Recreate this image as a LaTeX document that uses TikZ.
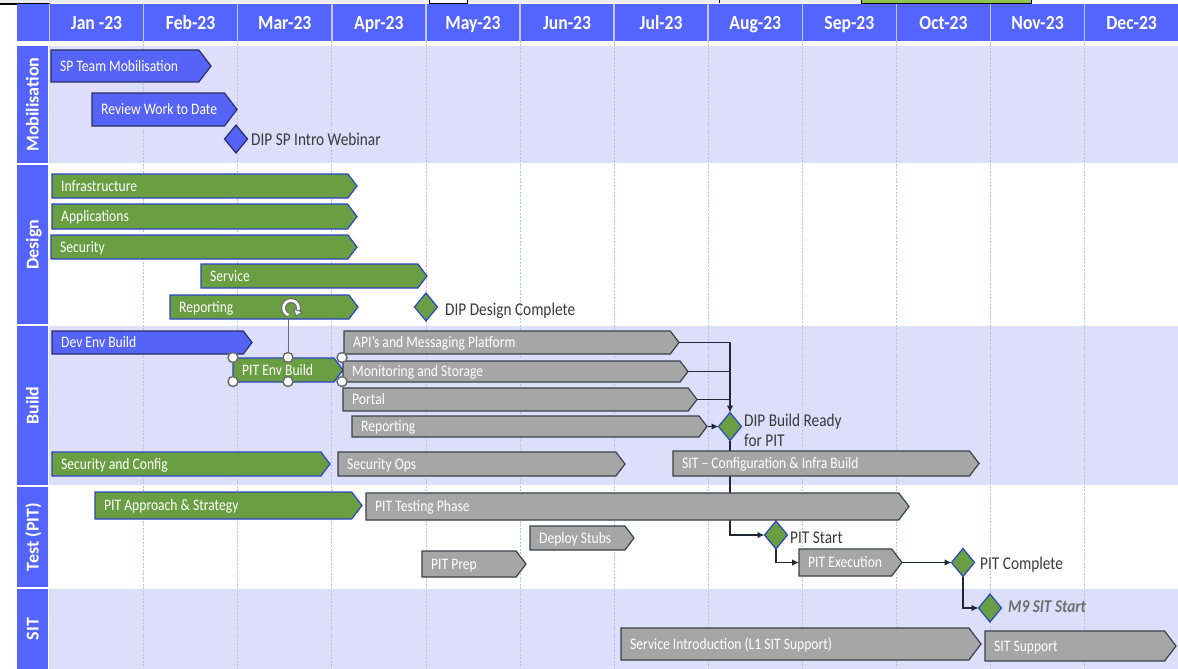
\documentclass[tikz,border=0pt]{standalone}
\usepackage{fontspec}
\setmainfont{Carlito}
\newfontfamily\barfont[FakeStretch=0.85]{Carlito}
\newfontfamily\hdrfont[FakeStretch=0.88]{Carlito}
\usetikzlibrary{shapes.geometric,arrows.meta,calc}

\definecolor{hdrblue}{HTML}{5465FF}
\definecolor{hdrsep}{HTML}{C3C8FF}
\definecolor{lane}{HTML}{DCDEFA}
\definecolor{gridc}{HTML}{B9BEF2}
\definecolor{bluebar}{HTML}{5563F6}
\definecolor{blueedge}{HTML}{2A2E66}
\definecolor{greenbar}{HTML}{6A9E42}
\definecolor{greenedge}{HTML}{2C45C4}
\definecolor{graybar}{HTML}{A6A6A6}
\definecolor{grayedge}{HTML}{3B4149}
\definecolor{labeltext}{HTML}{3A3A3A}
\definecolor{italictext}{HTML}{707070}
\definecolor{conncol}{HTML}{1E2833}
\definecolor{handlecol}{HTML}{6E6E6E}
\definecolor{stripgray}{HTML}{ECECEC}
\definecolor{stripgreen}{HTML}{8CC653}

\pgfdeclarelayer{back}
\pgfdeclarelayer{links}
\pgfsetlayers{back,links,main}

\tikzset{
  barbox/.style={inner sep=0pt, outer sep=0pt},
  bluestyle/.style={fill=bluebar, draw=blueedge, line width=1.2pt, line join=miter},
  greenstyle/.style={fill=greenbar, draw=greenedge, line width=1.2pt, line join=miter},
  graystyle/.style={fill=graybar, draw=grayedge, line width=1.2pt, line join=miter},
  bartext/.style={anchor=west, inner sep=0pt, text=white, text height=10pt, text depth=0pt,
    font=\barfont\fontsize{16}{18}\selectfont},
  ms/.style={diamond, inner sep=0pt, outer sep=0pt, minimum width=23pt, minimum height=28pt, line width=1.2pt},
  msgreen/.style={ms, fill=greenbar, draw=greenedge},
  msblue/.style={ms, fill=bluebar, draw=blueedge},
  mslabel/.style={anchor=west, inner sep=0pt, text=labeltext, text height=11.5pt, text depth=0pt,
    font=\barfont\fontsize{18}{20}\selectfont},
  link/.style={draw=conncol, line width=1.2pt},
  linkarrow/.style={link, -{Latex[length=7pt,width=6.5pt]}},
  monthtext/.style={inner sep=0pt, text=white, text height=13pt, text depth=0pt,
    font=\hdrfont\bfseries\fontsize{20}{22}\selectfont},
  lanecell/.style={rotate=90, fill=hdrblue, inner sep=0pt, minimum height=31pt, text=white,
    text height=12pt, text depth=0pt, font=\bfseries\fontsize{18}{20}\selectfont},
  gridline/.style={draw=gridc, line width=0.8pt, dash pattern=on 2pt off 1.5pt},
  handle/.style={circle, fill=white, draw=handlecol, line width=1.5pt, minimum size=10pt, inner sep=0pt},
}

% task bar: style, name, left x, tip x, top y, bottom y, text
\newcommand\taskbar[7]{%
  \pgfmathsetmacro\tbw{#4-#3}%
  \pgfmathsetmacro\tbh{#6-#5}%
  \pgfmathsetmacro\tbd{0.38*\tbh}%
  \node[barbox, minimum width=\tbw pt, minimum height=\tbh pt] (#2) at ({(#3+#4)/2},{(#5+#6)/2}) {};
  \path[#1] (#2.north west) -- ([xshift=-\tbd pt]#2.north east) -- (#2.east)
    -- ([xshift=-\tbd pt]#2.south east) -- (#2.south west) -- cycle;
  \node[bartext] (#2-t) at ([xshift=9pt]#2.west) {#7};
}

\begin{document}
\begin{tikzpicture}[x=1pt,y=-1pt]
\useasboundingbox (0,0) rectangle (1178,669);

\begin{pgfonlayer}{back}
  \fill[white] (0,0) rectangle (1178,669);
  % window strip along the top edge
  \fill[stripgray] (0,0) rectangle (861,3.5);
  \filldraw[fill=white, draw=black, line width=1pt] (429,-1) rectangle (467,3.5);
  \draw[black, line width=1pt] (719,-1) -- (719,3.5);
  \filldraw[fill=stripgreen, draw=black, line width=1pt] (861,-1) rectangle (1031,3.5);
  \draw[black, line width=2pt] (0,4) -- (50,4);
  % header band
  \fill[hdrblue] (17,4.5) rectangle (1178,41);
  \draw[hdrsep, line width=1.5pt] (49.5,4.5) -- (49.5,41);
  \foreach \i in {1,...,11} {
    \draw[hdrsep, line width=1.5pt] ({49.5+94.1*\i},4.5) -- ({49.5+94.1*\i},41);
  }
  % lane backgrounds
  \fill[lane] (49,46) rectangle (1178,163);
  \fill[lane] (49,326) rectangle (1178,485);
  \fill[lane] (49,589) rectangle (1178,669);
  % month grid
  \foreach \i in {1,...,11} {
    \draw[gridline] ({49.5+94.1*\i},41) -- ({49.5+94.1*\i},669);
  }
\end{pgfonlayer}

% month headings
\foreach \i/\m in {0/{Jan -23},1/{Feb-23},2/{Mar-23},3/{Apr-23},4/{May-23},5/{Jun-23},
                   6/{Jul-23},7/{Aug-23},8/{Sep-23},9/{Oct-23},10/{Nov-23},11/{Dec-23}} {
  \node[monthtext] (month-\i) at ({49.5+94.1*(\i+0.5)},23) {\m};
}

% swimlane headings
\node[lanecell, minimum width=117pt] (lane-mob) at (32.5,104.5) {Mobilisation};
\node[lanecell, minimum width=159pt] (lane-design) at (32.5,244.5) {Design};
\node[lanecell, minimum width=159pt] (lane-build) at (32.5,405.5) {Build};
\node[lanecell, minimum width=100pt] (lane-test) at (32.5,537) {Test (PIT)};
\node[lanecell, minimum width=80pt] (lane-sit) at (32.5,629) {SIT};

% Mobilisation
\taskbar{bluestyle}{spteam}{51}{211}{50}{82}{SP Team Mobilisation}
\taskbar{bluestyle}{review}{92}{237}{93}{126}{Review Work to Date}
\node[msblue] (webinar) at (236,139) {};
\node[mslabel] (webinar-l) at (251,140) {DIP SP Intro Webinar};

% Design
\taskbar{greenstyle}{infra}{52}{357}{174}{198}{Infrastructure}
\taskbar{greenstyle}{apps}{52}{357}{204}{229}{Applications}
\taskbar{greenstyle}{sec}{51}{357}{235}{259}{Security}
\taskbar{greenstyle}{service}{201}{427}{264}{288}{Service}
\taskbar{greenstyle}{dreport}{170}{358}{295}{319}{Reporting}
\node[msgreen] (design) at (426,307) {};
\node[mslabel] (design-l) at (445,310) {DIP Design Complete};

% Build
\taskbar{bluestyle}{devenv}{52}{252}{331}{354}{Dev Env Build}
\taskbar{greenstyle}{pitenv}{233}{343}{358}{382}{PIT Env Build}
\taskbar{graystyle}{apis}{344}{679}{331}{354}{API’s and Messaging Platform}
\taskbar{graystyle}{monitor}{343}{688}{361}{382}{Monitoring and Storage}
\taskbar{graystyle}{portal}{343}{697}{388}{411}{Portal}
\taskbar{graystyle}{breport}{352}{707}{416}{437}{Reporting}
\taskbar{greenstyle}{secconf}{52}{330}{452}{476}{Security and Config}
\taskbar{graystyle}{secops}{338}{625}{452}{476}{Security Ops}
\taskbar{graystyle}{sitconf}{673}{979}{451}{476}{SIT – Configuration \& Infra Build}
\node[msgreen] (buildready) at (730,426.5) {};
\node[mslabel, text height=, text depth=, align=left, anchor=base west, inner sep=0pt]
  (buildready-l) at (744,446) {DIP Build Ready\\for PIT};

% Test (PIT)
\taskbar{greenstyle}{approach}{95}{362}{492}{519}{PIT Approach \& Strategy}
\taskbar{graystyle}{testing}{366}{909}{493}{520}{PIT Testing Phase}
\taskbar{graystyle}{stubs}{530}{634}{526}{550}{Deploy Stubs}
\taskbar{graystyle}{pitprep}{422}{526}{551}{577}{PIT Prep}
\taskbar{graystyle}{pitexec}{799}{902}{549}{576}{PIT Execution}
\node[msgreen] (pitstart) at (776,535) {};
\node[mslabel] (pitstart-l) at (790,538) {PIT Start};
\node[msgreen] (pitcomplete) at (963,562.5) {};
\node[mslabel] (pitcomplete-l) at (980,564) {PIT Complete};

% SIT
\taskbar{graystyle}{servintro}{621}{981}{628}{660}{Service Introduction (L1 SIT Support)}
\taskbar{graystyle}{sitsupport}{985}{1176}{631}{661}{SIT Support}
\node[msgreen] (m9) at (990,608) {};
\node[mslabel, text=italictext, font=\barfont\bfseries\itshape\fontsize{18}{20}\selectfont]
  (m9-l) at (1008,607) {M9 SIT Start};

% dependencies
\begin{pgfonlayer}{links}
  \draw[linkarrow] (apis.east) -| (buildready.north);
  \draw[link] (monitor.east) -- (monitor.east -| buildready.north);
  \draw[link] (portal.east) -- (portal.east -| buildready.north);
  \draw[linkarrow] (breport.east) -- (buildready.west);
  \draw[linkarrow] (buildready.south) |- (pitstart.west);
  \draw[linkarrow] (pitstart.south) |- (pitexec.west);
  \draw[linkarrow] (pitexec.east) -- (pitcomplete.west);
  \draw[linkarrow] (pitcomplete.south) |- (m9.west);
\end{pgfonlayer}

% selection handles around the PIT Env Build bar
\node[circle, inner sep=0pt, minimum size=19pt] (rot) at (291,308) {};
\node[handle] (h-tl) at (233,357.5) {};
\node[handle] (h-tm) at (288,357.5) {};
\node[handle] (h-tr) at (342,357.5) {};
\node[handle] (h-bl) at (233,381.5) {};
\node[handle] (h-bm) at (288,381.5) {};
\node[handle] (h-br) at (342,381.5) {};
\begin{pgfonlayer}{links}
  \draw[handlecol, line width=1pt] (h-tm.north) -- (h-tm.north |- rot.south);
\end{pgfonlayer}
\draw[handlecol, line width=5pt] (rot.center) ++(110:7.5) arc[start angle=110, end angle=380, radius=7.5];
\draw[white, line width=2.6pt] (rot.center) ++(110:7.5) arc[start angle=110, end angle=380, radius=7.5];
\filldraw[fill=white, draw=handlecol, line width=1pt, line join=round]
  (302.3,312.1) -- (293.8,309.0) -- (296.0,316.2) -- cycle;
\end{tikzpicture}
\end{document}
